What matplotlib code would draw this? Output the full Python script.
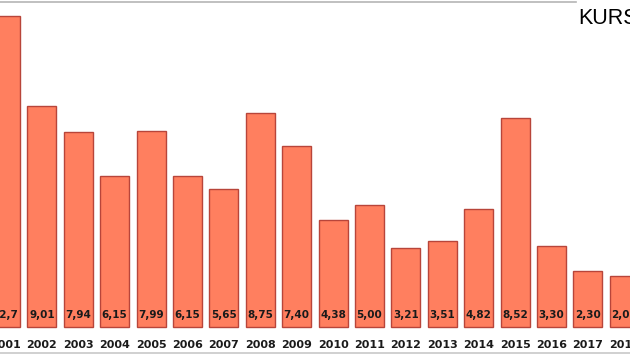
import matplotlib
matplotlib.use('Agg')
import matplotlib.pyplot as plt
import numpy as np

# data
years = ['2001', '2002', '2003', '2004', '2005', '2006', '2007', '2008', '2009',
         '2010', '2011', '2012', '2013', '2014', '2015', '2016', '2017', '2018']
values = [12.7, 9.01, 7.94, 6.15, 7.99, 6.15, 5.65, 8.75, 7.40,
          4.38, 5.00, 3.21, 3.51, 4.82, 8.52, 3.30, 2.30, 2.08]
value_labels = ['12,7', '9,01', '7,94', '6,15', '7,99', '6,15', '5,65', '8,75', '7,40',
                '4,38', '5,00', '3,21', '3,51', '4,82', '8,52', '3,30', '2,30', '2,08']
title = 'KURS'

W, H = 630, 355
fig = plt.figure(figsize=(W / 100, H / 100), dpi=100)
ax = fig.add_axes([0, 0, 1, 1])

pitch = 36.4      # px between bar centres
scale = 24.5      # px per unit
x0 = 5.5          # px of first bar centre
base = 327        # px (from top) of bar bottom

x = np.arange(len(years))
ax.bar(x, values, width=0.80, color='#FF7F5F', edgecolor='#B8453A', linewidth=1.0)

ax.set_xlim(-x0 / pitch, (W - x0) / pitch)
ax.set_ylim(-(H - base) / scale, base / scale)
ax.axis('off')

for i in range(len(years)):
    ax.text(x[i], 11.5 / scale, value_labels[i], ha='center', va='center',
            fontsize=7.5, fontweight='bold', color='#1a1a1a', family='DejaVu Sans')
    ax.text(x[i], -17.5 / scale, years[i], ha='center', va='center',
            fontsize=8, fontweight='bold', color='#1a1a1a', family='DejaVu Sans')

# frame lines
fig.add_artist(plt.Line2D([0, 576 / W], [1 - 1.5 / H, 1 - 1.5 / H], color='#b5b5b5', lw=1.2))
fig.add_artist(plt.Line2D([0, 1], [1 - 352.5 / H, 1 - 352.5 / H], color='#c8c8c8', lw=1.2))

fig.text(578 / W, 1 - 24.5 / H, title, ha='left', va='baseline',
         fontsize=15.5, color='black', family='Liberation Sans')

fig.savefig('out.png', dpi=100)
